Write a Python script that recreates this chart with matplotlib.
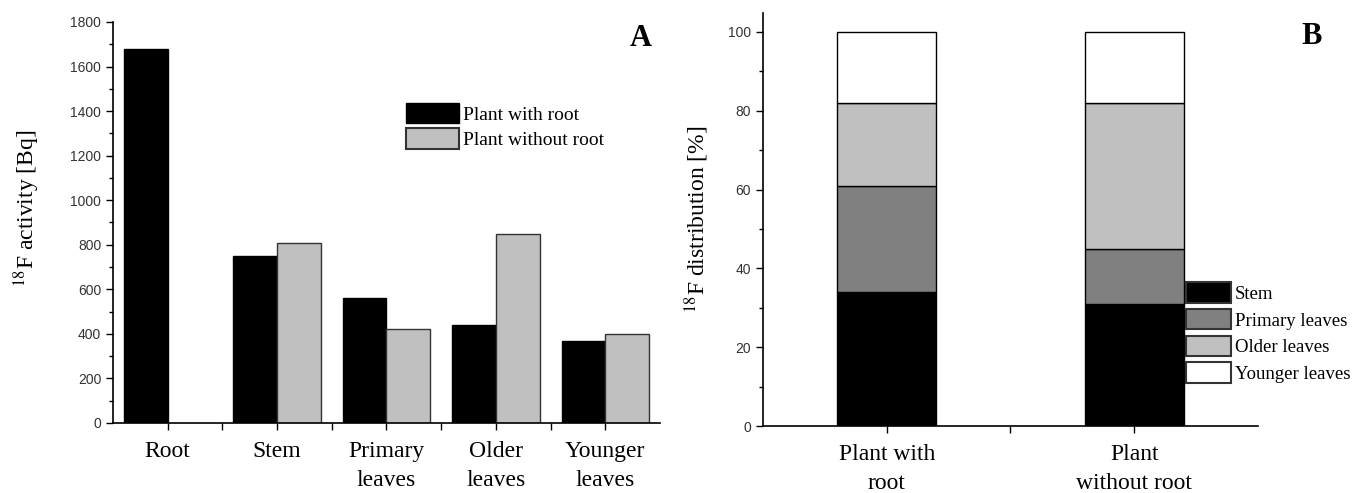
import numpy as np
import matplotlib
matplotlib.use('Agg')
import matplotlib.pyplot as plt
from matplotlib.ticker import MultipleLocator, FixedLocator

# panel A data
organs = ['Root', 'Stem', 'Primary\nleaves', 'Older\nleaves', 'Younger\nleaves']
with_root = [1680, 750, 560, 440, 370]
without_root = [0, 810, 420, 850, 400]

# panel B data (percent)
plants = ['Plant with\nroot', 'Plant\nwithout root']
parts = ['Stem', 'Primary leaves', 'Older leaves', 'Younger leaves']
stem_pct = [34, 31]
primary_pct = [27, 14]
older_pct = [21, 37]
younger_pct = [18, 18]
part_colors = ['#000000', '#808080', '#c0c0c0', '#ffffff']

plt.rcParams['mathtext.fontset'] = 'stix'
serif = ['Liberation Serif', 'DejaVu Serif']
tickfont = ['Liberation Sans Narrow', 'Liberation Sans', 'DejaVu Sans']

fig = plt.figure(figsize=(13.56, 4.93), dpi=100)
axA = fig.add_axes([0.0833, 0.142, 0.4034, 0.8134])
axB = fig.add_axes([0.5627, 0.1359, 0.365, 0.8377])

def style(ax):
    for s in ['top', 'right']:
        ax.spines[s].set_visible(False)
    for s in ['left', 'bottom']:
        ax.spines[s].set_linewidth(1.2)
    ax.tick_params(which='both', direction='out', width=1.0, colors='black')
    ax.tick_params(which='major', length=5)
    ax.tick_params(which='minor', length=3)
    for lab in ax.get_yticklabels():
        lab.set_family(tickfont)
        lab.set_fontsize(10)
        lab.set_color('#333333')

# ---- panel A ----
x = np.arange(len(organs))
w = 0.4
axA.bar(x - w/2, with_root, w, color='black', edgecolor='black', linewidth=1)
axA.bar(x[1:] + w/2, without_root[1:], w, color='#c0c0c0', edgecolor='#333333', linewidth=1)
axA.set_xlim(-0.5, 4.5)
axA.set_ylim(0, 1800)
axA.yaxis.set_major_locator(MultipleLocator(200))
axA.yaxis.set_minor_locator(MultipleLocator(100))
axA.set_xticks(x)
axA.set_xticklabels(organs, family=serif, fontsize=17, linespacing=1.5)
axA.xaxis.set_minor_locator(FixedLocator(x[:-1] + 0.5))
axA.set_ylabel(r'$^{18}$F activity [Bq]', family=serif, fontsize=17)
axA.yaxis.set_label_coords(-0.13, 0.535)
style(axA)
axA.tick_params(axis='x', which='both', length=5, pad=8)
fig.text(641 / 1356, 1 - 38 / 493, 'A', family=serif, fontsize=22,
         fontweight='bold', ha='center', va='center')
hA = [plt.Rectangle((0, 0), 1, 1, fc='black', ec='black'),
      plt.Rectangle((0, 0), 1, 1, fc='#c0c0c0', ec='#333333', lw=1.5)]
axA.legend(hA, ['Plant with root', 'Plant without root'], frameon=False,
           loc='upper left', bbox_to_anchor=(0.522, 0.818), prop={'family': serif, 'size': 14},
           handlelength=2.7, handleheight=1.25, handletextpad=0.2, labelspacing=0.25,
           borderaxespad=0)

# ---- panel B ----
xb = np.arange(len(plants))
bottom = np.zeros(len(plants))
for vals, c in zip([stem_pct, primary_pct, older_pct, younger_pct], part_colors):
    axB.bar(xb, vals, w, bottom=bottom, color=c, edgecolor='black', linewidth=1)
    bottom += np.array(vals)
axB.set_xlim(-0.5, 1.5)
axB.set_ylim(0, 104.8)
axB.yaxis.set_major_locator(MultipleLocator(20))
axB.yaxis.set_minor_locator(MultipleLocator(10))
axB.set_xticks(xb)
axB.set_xticklabels(plants, family=serif, fontsize=17, linespacing=1.5)
axB.xaxis.set_minor_locator(FixedLocator([0.5]))
axB.set_ylabel(r'$^{18}$F distribution [%]', family=serif, fontsize=17, labelpad=12)
style(axB)
axB.tick_params(axis='x', which='both', length=5, pad=8)
fig.text(1312 / 1356, 1 - 36 / 493, 'B', family=serif, fontsize=22, fontweight='bold',
         ha='center', va='center')
hB = [plt.Rectangle((0, 0), 1, 1, fc=c, ec='#333333', lw=1.5) for c in part_colors]
axB.legend(hB, parts, frameon=False, loc='upper left', bbox_to_anchor=(0.84, 0.366),
           prop={'family': serif, 'size': 13.5}, handlelength=2.4, handleheight=1.3,
           handletextpad=0.2, labelspacing=0.33, borderaxespad=0)

fig.savefig('out.png', dpi=100)
